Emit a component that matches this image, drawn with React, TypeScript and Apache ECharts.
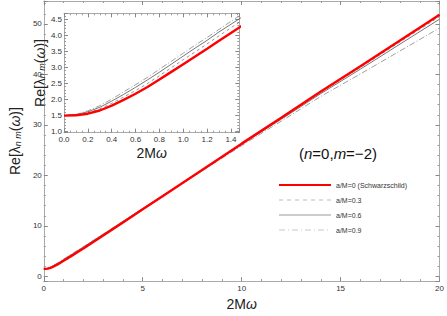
import React, { useEffect, useRef } from "react";
import * as echarts from "echarts";

const xs = [0, 0.1, 0.2, 0.3, 0.4, 0.5, 0.6, 0.7, 0.8, 0.9, 1.0, 1.1, 1.2, 1.3, 1.4, 1.5, 1.75, 2, 2.5, 3, 4, 5, 6, 8, 10, 12, 14, 16, 18, 20];
const aM0 = [1.5, 1.51, 1.56, 1.66, 1.81, 1.99, 2.18, 2.39, 2.62, 2.86, 3.1, 3.34, 3.58, 3.83, 4.07, 4.31, 4.93, 5.55, 6.82, 8.1, 10.7, 13.3, 15.9, 21.1, 26.3, 31.4, 36.6, 41.6, 46.7, 51.8];
const aM03 = [1.5, 1.52, 1.59, 1.71, 1.88, 2.08, 2.28, 2.5, 2.74, 2.99, 3.24, 3.48, 3.73, 3.98, 4.23, 4.47, 5.1, 5.72, 6.98, 8.25, 10.83, 13.4, 15.97, 21.1, 26.25, 31.3, 36.45, 41.38, 46.42, 51.45];
const aM06 = [1.5, 1.53, 1.62, 1.76, 1.95, 2.16, 2.38, 2.61, 2.85, 3.1, 3.35, 3.6, 3.84, 4.1, 4.34, 4.58, 5.21, 5.83, 7.09, 8.35, 10.9, 13.45, 15.98, 21.05, 26.15, 31.12, 36.2, 41.05, 46.0, 50.95];
const aM09 = [1.5, 1.54, 1.65, 1.81, 2.01, 2.24, 2.46, 2.69, 2.94, 3.19, 3.44, 3.69, 3.93, 4.18, 4.43, 4.67, 5.29, 5.9, 7.15, 8.4, 10.92, 13.42, 15.9, 20.9, 25.9, 30.75, 35.65, 40.1, 44.65, 49.2];

const seriesNames = ["a/M=0 (Schwarzschild)", "a/M=0.3", "a/M=0.6", "a/M=0.9"];
const FONT = "Liberation Sans, Arial, sans-serif";

export default function App() {
  const ref = useRef<HTMLDivElement>(null);
  useEffect(() => {
    if (!ref.current) return;
    const chart = echarts.init(ref.current, null, { renderer: "svg" });
    const pair = (ys: number[]) => xs.map((x, i) => [x, ys[i]]);
    const frame = "#aaaaaa";
    const labelStyle = { fontSize: 8, color: "#333", fontFamily: FONT };
    const nameStyle = {
      fontSize: 14,
      color: "#222",
      fontFamily: FONT,
      rich: {
        s: { fontSize: 9, fontStyle: "italic", fontFamily: FONT, color: "#222", verticalAlign: "bottom", lineHeight: 12 },
        w: { fontSize: 14, fontStyle: "italic", fontFamily: FONT, color: "#222" },
      },
    };
    const yName = "Re[λ{s|n m}({w|ω})]";
    const xName = "2M{w|ω}";
    const mkX = (grid: number, min: number, max: number, minorSplit: number, splitNumber: number, top: boolean, nameGap: number) => ({
      type: "value",
      gridIndex: grid,
      min,
      max,
      splitNumber,
      position: top ? "top" : "bottom",
      name: top ? "" : xName,
      nameLocation: "middle",
      nameGap,
      nameTextStyle: nameStyle,
      axisLine: { show: true, onZero: false, lineStyle: { color: frame, width: 1 } },
      axisTick: { show: true, inside: true, length: 4, lineStyle: { color: "#888" } },
      minorTick: { show: true, splitNumber: minorSplit, length: 2, lineStyle: { color: "#999" } },
      axisLabel: { show: !top, margin: 3, ...labelStyle, showMinLabel: true, showMaxLabel: grid === 0, formatter: grid === 1 ? (v: number) => v.toFixed(1) : undefined },
      splitLine: { show: false },
    });
    const mkY = (grid: number, min: number, max: number, minorSplit: number, splitNumber: number, right: boolean, nameGap: number, fmt?: (v: number) => string) => ({
      type: "value",
      gridIndex: grid,
      min,
      max,
      splitNumber,
      position: right ? "right" : "left",
      name: right ? "" : yName,
      nameLocation: "middle",
      nameGap,
      nameTextStyle: nameStyle,
      axisLine: { show: true, onZero: false, lineStyle: { color: frame, width: 1 } },
      axisTick: { show: true, inside: true, length: 4, lineStyle: { color: "#888" } },
      minorTick: { show: true, splitNumber: minorSplit, length: 2, lineStyle: { color: "#999" } },
      axisLabel: { show: !right, margin: 2, ...labelStyle, showMinLabel: false, showMaxLabel: false, formatter: fmt },
      splitLine: { show: false },
    });
    const styles = [
      { color: "#ff0000", width: 2.4, type: "solid" as any },
      { color: "#777777", width: 0.8, type: [3, 3] as any },
      { color: "#666666", width: 0.9, type: "solid" as any },
      { color: "#888888", width: 0.8, type: [6, 2, 1, 2] as any },
    ];
    const legendStyles = [
      { color: "#ff0000", width: 2, type: "solid" as any },
      { color: "#aaaaaa", width: 0.8, type: [4, 4] as any },
      { color: "#999999", width: 1, type: "solid" as any },
      { color: "#bbbbbb", width: 0.8, type: [6, 3, 1, 3] as any },
    ];
    const datas = [aM0, aM03, aM06, aM09];
    const series: any[] = [];
    [0, 1].forEach((g) => {
      datas.forEach((d, i) => {
        series.push({
          type: "line",
          name: seriesNames[i],
          xAxisIndex: g === 0 ? 0 : 2,
          yAxisIndex: g === 0 ? 0 : 2,
          data: pair(d),
          symbol: "none",
          showSymbol: false,
          smooth: false,
          clip: true,
          lineStyle: styles[i],
          itemStyle: { color: styles[i].color },
          z: i === 0 ? 3 : 2,
        });
      });
    });
    chart.setOption({
      animation: false,
      backgroundColor: "#ffffff",
      grid: [
        { left: 28.3, top: 1, right: 4, bottom: 30.3, show: false },
        { left: 64, top: 13.3, width: 175.3, height: 119.4, show: true, backgroundColor: "#ffffff", borderWidth: 0 },
      ],
      xAxis: [
        mkX(0, 0, 20, 5, 4, false, 13),
        mkX(0, 0, 20, 5, 4, true, 0),
        mkX(1, 0, 1.47, 4, 7, false, 13),
        mkX(1, 0, 1.47, 4, 7, true, 0),
      ],
      yAxis: [
        mkY(0, -0.92, 54.54, 5, 5, false, 16),
        mkY(0, -0.92, 54.54, 5, 5, true, 0),
        mkY(1, 0.97, 4.68, 5, 7, false, 17, (v: number) => v.toFixed(1)),
        mkY(1, 0.97, 4.68, 5, 7, true, 0),
      ],
      legend: {
        show: true,
        orient: "vertical",
        left: 273,
        top: 176,
        itemWidth: 52,
        itemHeight: 10,
        itemGap: 7,
        data: seriesNames.map((n, i) => ({ name: n, lineStyle: legendStyles[i] })),
        itemStyle: { opacity: 0 },
        textStyle: { fontSize: 7, color: "#333", fontFamily: FONT },
        selectedMode: false,
      },
      graphic: [
        {
          type: "text",
          x: 338,
          y: 153,
          style: {
            text: "({i|n}=0,{i|m}=−2)",
            fontSize: 15,
            fontFamily: FONT,
            fill: "#111",
            align: "center",
            verticalAlign: "middle",
            rich: { i: { fontStyle: "italic", fontSize: 15, fontFamily: FONT, fill: "#111" } },
          },
        },
      ],
      series,
    });
    return () => chart.dispose();
  }, []);
  return <div ref={ref} style={{ position: "absolute", left: 0, top: 0, width: 447, height: 316 }} />;
}
